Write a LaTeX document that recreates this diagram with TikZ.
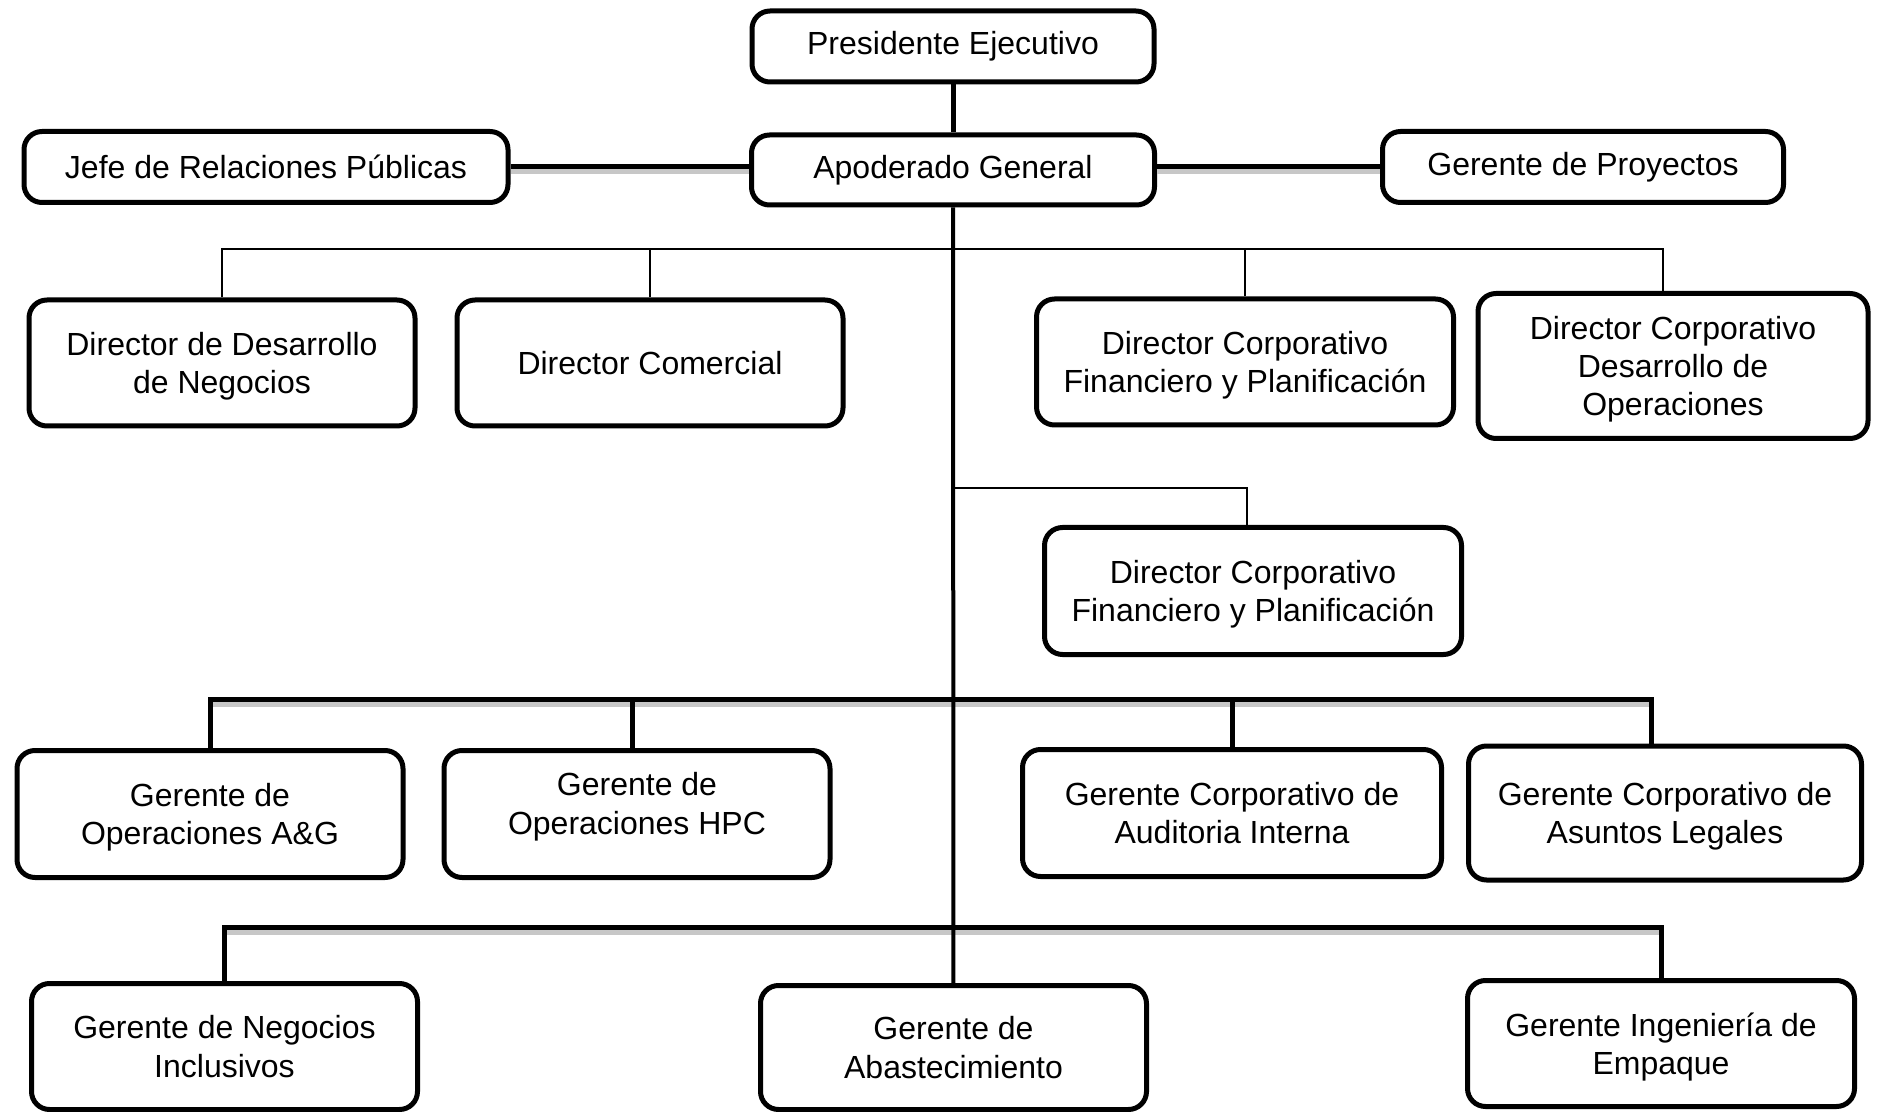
\documentclass[tikz,border=0pt]{standalone}
\usepackage{fontspec}
\setmainfont{Liberation Sans}
\usetikzlibrary{positioning}

\begin{document}
\begin{tikzpicture}[
    x=0.5pt, y=-0.5pt,
    post/.style={align=center, draw, fill=white, line width=2.5pt, rounded corners=9pt, inner sep=0pt, font=\fontsize{16}{19.2}\selectfont},
    lower/.style={text depth=-1pt},
    thinline/.style={line width=1pt},
    trunk/.style={line width=2pt},
    link/.style={line width=2.5pt},
    shade/.style={draw=black!22, line width=2.5pt, transform canvas={yshift=-2.5pt}}
]
    \useasboundingbox (0,0) rectangle (1880,1112);
    \clip (0,0) rectangle (1880,1112);

    % NODES
    \node[post, minimum width=201.5pt, minimum height=35pt] (apod_gen) at (953,170) {Apoderado General};
    \node[post, minimum width=201pt, minimum height=35.5pt, above=24pt of apod_gen] (pres_ejec) {Presidente Ejecutivo};
    \node[post, minimum width=242pt, minimum height=35.5pt] (jefe_rp) at (266,167) {Jefe de Relaciones Públicas};
    \node[post, minimum width=200.5pt, minimum height=35.5pt] (ger_proy) at (1583,167) {Gerente de Proyectos};

    \node[post, lower, minimum width=193pt, minimum height=63pt] (dir_des) at (222,363) {Director de Desarrollo\\de Negocios};
    \node[post, lower, minimum width=193pt, minimum height=63pt, right=18.5pt of dir_des] (dir_com) {Director Comercial};
    \node[post, lower, minimum width=208.5pt, minimum height=63pt] (dir_fin) at (1245,362) {Director Corporativo\\Financiero y Planificación};
    \node[post, lower, minimum width=195pt, minimum height=72.5pt] (dir_ops) at (1673,366) {Director Corporativo\\Desarrollo de\\Operaciones};

    \node[post, lower, minimum width=208.5pt, minimum height=63.5pt] (dir_fin_b) at (1253,591) {Director Corporativo\\Financiero y Planificación};

    \node[post, lower, minimum width=193pt, minimum height=63.5pt] (ger_ag) at (210,814) {Gerente de\\Operaciones A\&G};
    \node[post, minimum width=193pt, minimum height=63.5pt, text depth=10.6pt, right=18pt of ger_ag] (ger_hpc) {Gerente de\\Operaciones HPC};
    \node[post, lower, minimum width=209.5pt, minimum height=63.5pt] (ger_aud) at (1232,813) {Gerente Corporativo de\\Auditoria Interna};
    \node[post, lower, minimum width=196.5pt, minimum height=67pt, right=11pt of ger_aud] (ger_leg) {Gerente Corporativo de\\Asuntos Legales};

    \node[post, lower, minimum width=193pt, minimum height=63pt] (ger_inc) at (224.5,1046.5) {Gerente de Negocios\\Inclusivos};
    \node[post, lower, minimum width=193pt, minimum height=62pt] (ger_abs) at (953.5,1047.5) {Gerente de\\Abastecimiento};
    \node[post, lower, minimum width=193.5pt, minimum height=63pt] (ger_emp) at (1661,1043.5) {Gerente Ingeniería de\\Empaque};

    % points on the trunk
    \coordinate (row_dir) at (953,249);
    \coordinate (row_fin) at (953,488);
    \coordinate (row_ger) at (953,699);
    \coordinate (row_low) at (953,927);

    % EDGES
    \draw[shade] (jefe_rp.east) -- (jefe_rp.east -| apod_gen.west);
    \draw[shade] (ger_proy.west -| apod_gen.east) -- (ger_proy.west);
    \draw[shade] (ger_ag.north |- row_ger) -- ([xshift=-7pt]ger_leg.north |- row_ger);
    \draw[shade] (ger_inc.north |- row_low) -- (ger_emp.north |- row_low);

    \draw[link] (pres_ejec) -- (apod_gen);
    \draw[link] (jefe_rp.east) -- (jefe_rp.east -| apod_gen.west);
    \draw[link] (ger_proy.west -| apod_gen.east) -- (ger_proy.west);
    \draw[trunk] (apod_gen) -- (ger_abs);

    \draw[thinline] (dir_des.north) |- (row_dir) -| ([xshift=-5pt]dir_ops.north);
    \draw[thinline] (dir_com.north) -- (dir_com.north |- row_dir);
    \draw[thinline] (dir_fin.north) -- (dir_fin.north |- row_dir);

    \draw[thinline] (row_fin) -| ([xshift=-3pt]dir_fin_b.north);

    \draw[link] (ger_ag.north) |- (row_ger) -| ([xshift=-7pt]ger_leg.north);
    \draw[link] ([xshift=-2.5pt]ger_hpc.north) -- ([xshift=-2.5pt]ger_hpc.north |- row_ger);
    \draw[link] (ger_aud.north) -- (ger_aud.north |- row_ger);

    \draw[link] (ger_inc.north) |- (row_low) -| (ger_emp.north);

\end{tikzpicture}
\end{document}
